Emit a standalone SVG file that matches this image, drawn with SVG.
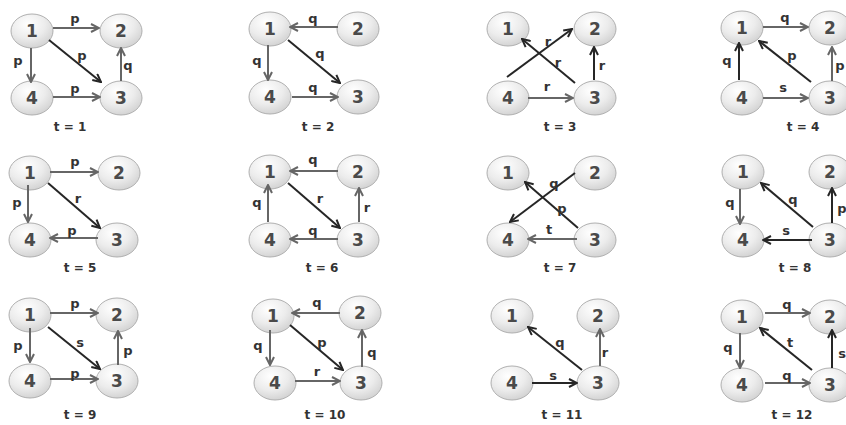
<svg xmlns="http://www.w3.org/2000/svg" width="846" height="425" viewBox="0 0 846 425">
<style>
.node ellipse{fill:url(#ng);stroke:#b0b0b0;stroke-width:1}
.node text{font-family:"DejaVu Sans","Liberation Sans",sans-serif;font-weight:bold;font-size:17px;fill:#4a4a4a;text-anchor:middle;dominant-baseline:central}
.e{stroke:#666;stroke-width:2;fill:none;marker-end:url(#ag)}
.d{stroke:#262626;stroke-width:2;fill:none;marker-end:url(#ad)}
.lb{font-family:"DejaVu Sans","Liberation Sans",sans-serif;font-weight:bold;font-size:13px;fill:#333;text-anchor:middle;dominant-baseline:central}
.ttl{font-family:"DejaVu Sans","Liberation Sans",sans-serif;font-weight:bold;font-size:12px;fill:#333;text-anchor:middle}
</style>
<defs>
<radialGradient id="ng" cx="0.4" cy="0.3" r="0.75">
<stop offset="0" stop-color="#ffffff"/>
<stop offset="0.55" stop-color="#ececec"/>
<stop offset="1" stop-color="#d0d0d0"/>
</radialGradient>
<marker id="ag" viewBox="0 0 10 10" refX="9" refY="5" markerWidth="10" markerHeight="10" markerUnits="userSpaceOnUse" orient="auto">
<path d="M1,1 L9,5 L1,9" fill="none" stroke="#666" stroke-width="2"/>
</marker>
<marker id="ad" viewBox="0 0 10 10" refX="9" refY="5" markerWidth="10" markerHeight="10" markerUnits="userSpaceOnUse" orient="auto">
<path d="M1,1 L9,5 L1,9" fill="none" stroke="#262626" stroke-width="2"/>
</marker>
</defs>
<rect width="846" height="425" fill="#fff"/>

<!-- Nodes -->
<g id="t1-n1" class="node"><ellipse cx="32" cy="31" rx="21" ry="17"/><text x="32" y="31">1</text></g>
<g id="t1-n2" class="node"><ellipse cx="121" cy="31" rx="21" ry="17"/><text x="121" y="31">2</text></g>
<g id="t1-n4" class="node"><ellipse cx="32" cy="98" rx="21" ry="17"/><text x="32" y="98">4</text></g>
<g id="t1-n3" class="node"><ellipse cx="121" cy="98" rx="21" ry="17"/><text x="121" y="98">3</text></g>

<g id="t2-n1" class="node"><ellipse cx="270" cy="29" rx="21" ry="17"/><text x="270" y="29">1</text></g>
<g id="t2-n2" class="node"><ellipse cx="358" cy="29" rx="21" ry="17"/><text x="358" y="29">2</text></g>
<g id="t2-n4" class="node"><ellipse cx="270" cy="97" rx="21" ry="17"/><text x="270" y="97">4</text></g>
<g id="t2-n3" class="node"><ellipse cx="358" cy="97" rx="21" ry="17"/><text x="358" y="97">3</text></g>

<g id="t3-n1" class="node"><ellipse cx="508" cy="29" rx="21" ry="17"/><text x="508" y="29">1</text></g>
<g id="t3-n2" class="node"><ellipse cx="595" cy="29" rx="21" ry="17"/><text x="595" y="29">2</text></g>
<g id="t3-n4" class="node"><ellipse cx="508" cy="98" rx="21" ry="17"/><text x="508" y="98">4</text></g>
<g id="t3-n3" class="node"><ellipse cx="595" cy="98" rx="21" ry="17"/><text x="595" y="98">3</text></g>

<g id="t4-n1" class="node"><ellipse cx="742" cy="28" rx="21" ry="17"/><text x="742" y="28">1</text></g>
<g id="t4-n2" class="node"><ellipse cx="830" cy="28" rx="21" ry="17"/><text x="830" y="28">2</text></g>
<g id="t4-n4" class="node"><ellipse cx="742" cy="98" rx="21" ry="17"/><text x="742" y="98">4</text></g>
<g id="t4-n3" class="node"><ellipse cx="830" cy="98" rx="21" ry="17"/><text x="830" y="98">3</text></g>

<g id="t5-n1" class="node"><ellipse cx="30" cy="173" rx="21" ry="17"/><text x="30" y="173">1</text></g>
<g id="t5-n2" class="node"><ellipse cx="119" cy="173" rx="21" ry="17"/><text x="119" y="173">2</text></g>
<g id="t5-n4" class="node"><ellipse cx="30" cy="240" rx="21" ry="17"/><text x="30" y="240">4</text></g>
<g id="t5-n3" class="node"><ellipse cx="117" cy="240" rx="21" ry="17"/><text x="117" y="240">3</text></g>

<g id="t6-n1" class="node"><ellipse cx="270" cy="172" rx="21" ry="17"/><text x="270" y="172">1</text></g>
<g id="t6-n2" class="node"><ellipse cx="358" cy="172" rx="21" ry="17"/><text x="358" y="172">2</text></g>
<g id="t6-n4" class="node"><ellipse cx="270" cy="240" rx="21" ry="17"/><text x="270" y="240">4</text></g>
<g id="t6-n3" class="node"><ellipse cx="358" cy="240" rx="21" ry="17"/><text x="358" y="240">3</text></g>

<g id="t7-n1" class="node"><ellipse cx="508" cy="173" rx="21" ry="17"/><text x="508" y="173">1</text></g>
<g id="t7-n2" class="node"><ellipse cx="595" cy="173" rx="21" ry="17"/><text x="595" y="173">2</text></g>
<g id="t7-n4" class="node"><ellipse cx="508" cy="240" rx="21" ry="17"/><text x="508" y="240">4</text></g>
<g id="t7-n3" class="node"><ellipse cx="595" cy="240" rx="21" ry="17"/><text x="595" y="240">3</text></g>

<g id="t8-n1" class="node"><ellipse cx="743" cy="172" rx="21" ry="17"/><text x="743" y="172">1</text></g>
<g id="t8-n2" class="node"><ellipse cx="830" cy="172" rx="21" ry="17"/><text x="830" y="172">2</text></g>
<g id="t8-n4" class="node"><ellipse cx="743" cy="240" rx="21" ry="17"/><text x="743" y="240">4</text></g>
<g id="t8-n3" class="node"><ellipse cx="830" cy="240" rx="21" ry="17"/><text x="830" y="240">3</text></g>

<g id="t9-n1" class="node"><ellipse cx="30" cy="315" rx="21" ry="17"/><text x="30" y="315">1</text></g>
<g id="t9-n2" class="node"><ellipse cx="117" cy="315" rx="21" ry="17"/><text x="117" y="315">2</text></g>
<g id="t9-n4" class="node"><ellipse cx="30" cy="381" rx="21" ry="17"/><text x="30" y="381">4</text></g>
<g id="t9-n3" class="node"><ellipse cx="117" cy="381" rx="21" ry="17"/><text x="117" y="381">3</text></g>

<g id="t10-n1" class="node"><ellipse cx="273" cy="316" rx="21" ry="17"/><text x="273" y="316">1</text></g>
<g id="t10-n2" class="node"><ellipse cx="360" cy="313" rx="21" ry="17"/><text x="360" y="313">2</text></g>
<g id="t10-n4" class="node"><ellipse cx="275" cy="383" rx="21" ry="17"/><text x="275" y="383">4</text></g>
<g id="t10-n3" class="node"><ellipse cx="361" cy="383" rx="21" ry="17"/><text x="361" y="383">3</text></g>

<g id="t11-n1" class="node"><ellipse cx="512" cy="316" rx="21" ry="17"/><text x="512" y="316">1</text></g>
<g id="t11-n2" class="node"><ellipse cx="598" cy="316" rx="21" ry="17"/><text x="598" y="316">2</text></g>
<g id="t11-n4" class="node"><ellipse cx="512" cy="383" rx="21" ry="17"/><text x="512" y="383">4</text></g>
<g id="t11-n3" class="node"><ellipse cx="598" cy="383" rx="21" ry="17"/><text x="598" y="383">3</text></g>

<g id="t12-n1" class="node"><ellipse cx="742" cy="317" rx="21" ry="17"/><text x="742" y="317">1</text></g>
<g id="t12-n2" class="node"><ellipse cx="830" cy="317" rx="21" ry="17"/><text x="830" y="317">2</text></g>
<g id="t12-n4" class="node"><ellipse cx="742" cy="385" rx="21" ry="17"/><text x="742" y="385">4</text></g>
<g id="t12-n3" class="node"><ellipse cx="830" cy="385" rx="21" ry="17"/><text x="830" y="385">3</text></g>

<!-- Connectors -->
<g id="connectors">
<!-- t=1 -->
<line class="e" x1="53" y1="28" x2="99" y2="28"/>
<line class="e" x1="31" y1="48" x2="31" y2="82"/>
<line class="d" x1="49" y1="40" x2="101" y2="82"/>
<line class="e" x1="53" y1="97" x2="100" y2="97"/>
<line class="e" x1="121" y1="81" x2="121" y2="48"/>
<!-- t=2 -->
<line class="e" x1="338" y1="27" x2="290" y2="27"/>
<line class="e" x1="268" y1="45" x2="268" y2="80"/>
<line class="d" x1="288" y1="40" x2="340" y2="83"/>
<line class="e" x1="292" y1="97" x2="338" y2="97"/>
<!-- t=3 -->
<line class="d" x1="507" y1="77" x2="572" y2="29"/>
<line class="d" x1="575" y1="83" x2="522" y2="39"/>
<line class="d" x1="594" y1="80" x2="594" y2="47"/>
<line class="e" x1="528" y1="98" x2="573" y2="98"/>
<!-- t=4 -->
<line class="e" x1="763" y1="27" x2="808" y2="27"/>
<line class="d" x1="739" y1="80" x2="739" y2="43"/>
<line class="d" x1="811" y1="82" x2="759" y2="41"/>
<line class="e" x1="763" y1="98" x2="808" y2="98"/>
<line class="e" x1="832" y1="81" x2="832" y2="47"/>
<!-- t=5 -->
<line class="e" x1="50" y1="172" x2="98" y2="172"/>
<line class="e" x1="28" y1="185" x2="28" y2="222"/>
<line class="d" x1="48" y1="183" x2="100" y2="228"/>
<line class="e" x1="98" y1="238" x2="50" y2="238"/>
<!-- t=6 -->
<line class="e" x1="338" y1="171" x2="290" y2="171"/>
<line class="e" x1="268" y1="222" x2="268" y2="185"/>
<line class="d" x1="288" y1="183" x2="340" y2="228"/>
<line class="e" x1="359" y1="222" x2="359" y2="188"/>
<line class="e" x1="338" y1="239" x2="290" y2="239"/>
<!-- t=7 -->
<line class="d" x1="575" y1="173" x2="510" y2="222"/>
<line class="d" x1="578" y1="228" x2="525" y2="182"/>
<line class="e" x1="577" y1="239" x2="528" y2="239"/>
<!-- t=8 -->
<line class="e" x1="740" y1="189" x2="740" y2="224"/>
<line class="d" x1="813" y1="227" x2="761" y2="183"/>
<line class="d" x1="832" y1="223" x2="832" y2="188"/>
<line class="d" x1="812" y1="240" x2="763" y2="240"/>
<!-- t=9 -->
<line class="e" x1="50" y1="313" x2="98" y2="313"/>
<line class="e" x1="30" y1="328" x2="30" y2="362"/>
<line class="d" x1="48" y1="327" x2="100" y2="369"/>
<line class="e" x1="50" y1="379" x2="98" y2="379"/>
<line class="e" x1="118" y1="365" x2="118" y2="331"/>
<!-- t=10 -->
<line class="e" x1="340" y1="313" x2="292" y2="313"/>
<line class="e" x1="270" y1="330" x2="270" y2="365"/>
<line class="d" x1="290" y1="325" x2="343" y2="370"/>
<line class="e" x1="295" y1="381" x2="340" y2="381"/>
<line class="e" x1="362" y1="367" x2="362" y2="330"/>
<!-- t=11 -->
<line class="d" x1="582" y1="370" x2="528" y2="327"/>
<line class="e" x1="600" y1="366" x2="600" y2="329"/>
<line class="d" x1="532" y1="383" x2="577" y2="383"/>
<!-- t=12 -->
<line class="e" x1="765" y1="313" x2="810" y2="313"/>
<line class="e" x1="740" y1="333" x2="740" y2="368"/>
<line class="d" x1="812" y1="370" x2="760" y2="328"/>
<line class="d" x1="832" y1="368" x2="832" y2="330"/>
<line class="e" x1="765" y1="383" x2="810" y2="383"/>
</g>

<g id="edge-labels">
<text class="lb" x="75" y="18">p</text><text class="lb" x="18" y="60">p</text><text class="lb" x="82" y="55">p</text><text class="lb" x="75" y="88">p</text><text class="lb" x="128" y="65">q</text>
<text class="lb" x="313" y="18">q</text><text class="lb" x="257" y="60">q</text><text class="lb" x="320" y="53">q</text><text class="lb" x="313" y="87">q</text>
<text class="lb" x="548" y="41">r</text><text class="lb" x="558" y="62">r</text><text class="lb" x="602" y="65">r</text><text class="lb" x="547" y="86">r</text>
<text class="lb" x="785" y="17">q</text><text class="lb" x="727" y="60">q</text><text class="lb" x="792" y="55">p</text><text class="lb" x="783" y="87">s</text><text class="lb" x="840" y="65">p</text>
<text class="lb" x="75" y="161">p</text><text class="lb" x="17" y="202">p</text><text class="lb" x="78" y="198">r</text><text class="lb" x="72" y="230">p</text>
<text class="lb" x="313" y="159">q</text><text class="lb" x="257" y="202">q</text><text class="lb" x="320" y="198">r</text><text class="lb" x="367" y="207">r</text><text class="lb" x="313" y="230">q</text>
<text class="lb" x="554" y="183">q</text><text class="lb" x="562" y="208">p</text><text class="lb" x="549" y="229">t</text>
<text class="lb" x="730" y="202">q</text><text class="lb" x="793" y="199">q</text><text class="lb" x="842" y="208">p</text><text class="lb" x="786" y="230">s</text>
<text class="lb" x="75" y="303">p</text><text class="lb" x="18" y="345">p</text><text class="lb" x="80" y="342">s</text><text class="lb" x="75" y="373">p</text><text class="lb" x="128" y="350">p</text>
<text class="lb" x="317" y="302">q</text><text class="lb" x="258" y="345">q</text><text class="lb" x="322" y="342">p</text><text class="lb" x="317" y="371">r</text><text class="lb" x="372" y="352">q</text>
<text class="lb" x="560" y="342">q</text><text class="lb" x="605" y="352">r</text><text class="lb" x="553" y="375">s</text>
<text class="lb" x="787" y="304">q</text><text class="lb" x="728" y="347">q</text><text class="lb" x="790" y="342">t</text><text class="lb" x="842" y="353">s</text><text class="lb" x="787" y="375">q</text>
</g>

<g id="titles">
<text class="ttl" x="70" y="131">t = 1</text>
<text class="ttl" x="318" y="131">t = 2</text>
<text class="ttl" x="560" y="131">t = 3</text>
<text class="ttl" x="803" y="131">t = 4</text>
<text class="ttl" x="80" y="272">t = 5</text>
<text class="ttl" x="322" y="272">t = 6</text>
<text class="ttl" x="560" y="272">t = 7</text>
<text class="ttl" x="795" y="272">t = 8</text>
<text class="ttl" x="80" y="419">t = 9</text>
<text class="ttl" x="325" y="419">t = 10</text>
<text class="ttl" x="562" y="419">t = 11</text>
<text class="ttl" x="792" y="419">t = 12</text>
</g>
</svg>
